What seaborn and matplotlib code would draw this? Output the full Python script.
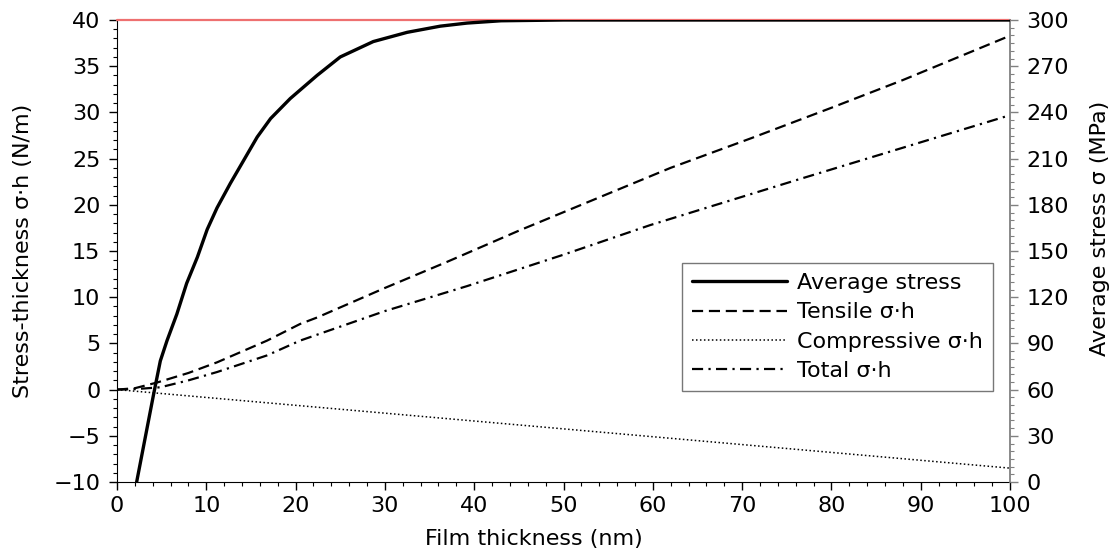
import numpy as np
import pandas as pd
import matplotlib
matplotlib.use("Agg")
import matplotlib.pyplot as plt
from matplotlib.ticker import MultipleLocator
from matplotlib.lines import Line2D
import seaborn as sns

# ---- data ----
avg_x = [2.2, 4.1, 4.85, 5.6, 6.7, 7.8, 9.0, 10.1, 11.2, 12.7, 14.2, 15.7, 17.2,
         19.4, 22.4, 25.0, 28.7, 32.5, 36.2, 39.2, 43.0, 50.0, 60.0, 70.0, 80.0, 90.0, 100.0]
avg_mpa = [0, 57, 78.6, 91.8, 109, 129, 146, 164, 178, 194, 209, 224, 236,
           249, 264, 276, 286, 292, 296, 298, 299.5, 300, 300, 300, 300, 300, 300]

ten_x = [0, 2, 4.5, 8, 11.2, 16.8, 20.5, 22.4, 30, 36.9, 45, 54, 62, 71, 80, 88, 100]
ten_y = [0, 0.15, 0.77, 1.8, 2.95, 5.3, 7.1, 7.8, 11.0, 13.8, 17.2, 20.8, 24.0, 27.2, 30.5, 33.5, 38.3]

comp_x = [0, 100]
comp_y = [0, -8.5]

tot_x = [0, 2, 4.85, 8, 11.2, 16.8, 20.5, 30, 39.2, 50, 59.7, 76.5, 100]
tot_y = [0, 0.05, 0.25, 1.0, 1.9, 3.7, 5.3, 8.5, 11.2, 14.6, 17.8, 22.8, 29.7]

labels = ["Average stress", "Tensile σ·h", "Compressive σ·h", "Total σ·h"]

sns.set_style("ticks")
plt.rcParams['font.family'] = ['DejaVu Sans']
plt.rcParams['text.color'] = 'black'
plt.rcParams['axes.labelcolor'] = 'black'
FS = 16
LFS = 16

fig = plt.figure(figsize=(11.17, 5.52), dpi=100)
ax = fig.add_axes([117/1117, 1-482/552, (1010-117)/1117, (482-20)/552])
ax2 = ax.twinx()

# left-axis series
sns.lineplot(x=ten_x, y=ten_y, ax=ax, color='black', lw=1.6, legend=False)
ax.lines[-1].set_dashes((5, 2.6))
sns.lineplot(x=comp_x, y=comp_y, ax=ax, color='black', lw=1.1, legend=False)
ax.lines[-1].set_dashes((1, 1.6))
sns.lineplot(x=tot_x, y=tot_y, ax=ax, color='black', lw=1.6, legend=False)
ax.lines[-1].set_dashes((5, 2.4, 1, 2.4))

# right-axis series
ax2.axhline(300, color='#ee7070', lw=1.6, zorder=1, clip_on=False)
sns.lineplot(x=avg_x, y=avg_mpa, ax=ax2, color='black', lw=2.4, legend=False, zorder=3)

ax.set_xlim(0, 100)
ax.set_ylim(-10, 40)
ax2.set_ylim(0, 300)

ax.xaxis.set_major_locator(MultipleLocator(10))
ax.xaxis.set_minor_locator(MultipleLocator(2))
ax.yaxis.set_major_locator(MultipleLocator(5))
ax.yaxis.set_minor_locator(MultipleLocator(1))
ax2.yaxis.set_major_locator(MultipleLocator(30))
ax2.yaxis.set_minor_locator(MultipleLocator(5))

for a in (ax, ax2):
    for s in a.spines.values():
        s.set_visible(False)
ax.spines['left'].set_visible(True)
ax.spines['bottom'].set_visible(True)
ax.spines['left'].set_color('black')
ax.spines['bottom'].set_color('black')
ax2.spines['right'].set_visible(True)
ax2.spines['right'].set_color('#808080')
ax2.spines['right'].set_linewidth(1.3)

ax.tick_params(axis='both', which='major', length=6, width=1, labelsize=FS, color='black',
               labelcolor='black', direction='out')
ax.tick_params(axis='both', which='minor', length=3, width=0.8, color='black', direction='out')
ax.tick_params(axis='y', which='major', pad=6)
ax.tick_params(axis='x', which='major', pad=4)
ax2.tick_params(axis='y', which='major', length=6, width=1, labelsize=FS, color='#808080',
                labelcolor='black', pad=6)
ax2.tick_params(axis='y', which='minor', length=3, width=0.8, color='#808080')

ax.set_xlabel("Film thickness (nm)", fontsize=LFS)
ax.set_ylabel("Stress-thickness σ·h (N/m)", fontsize=LFS)
ax2.set_ylabel("Average stress σ (MPa)", fontsize=LFS)
ax.xaxis.set_label_coords((534 - 117) / 893, (482 - 529) / 462)
ax.yaxis.set_label_coords((33 - 117) / 893, 0.5)
ax2.yaxis.set_label_coords((1090 - 117) / 893, (482 - 228) / 462)

handles = [
    Line2D([], [], color='black', lw=2.4),
    Line2D([], [], color='black', lw=1.6, dashes=(5, 2.6)),
    Line2D([], [], color='black', lw=1.1, dashes=(1, 1.6)),
    Line2D([], [], color='black', lw=1.6, dashes=(5, 2.4, 1, 2.4)),
]
leg = ax2.legend(handles, labels, loc='lower right', bbox_to_anchor=(0.981, 0.197),
                 borderaxespad=0, fontsize=FS, frameon=True, fancybox=False,
                 handlelength=4.3, handletextpad=0.45, labelspacing=0.42,
                 borderpad=0.45)
leg.get_frame().set_edgecolor('#555555')
leg.get_frame().set_linewidth(1.0)

fig.savefig("out.png", dpi=100)
